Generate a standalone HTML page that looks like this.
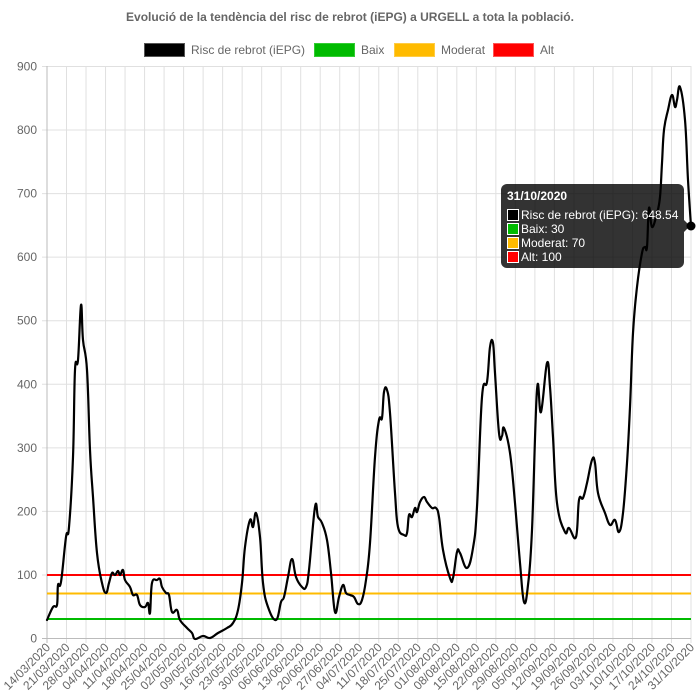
<!DOCTYPE html>
<html><head><meta charset="utf-8"><style>
body{margin:0;background:#fff;}
svg{display:block;font-family:"Liberation Sans",Arial,sans-serif;}
</style></head><body>
<svg width="700" height="700" viewBox="0 0 700 700" xmlns="http://www.w3.org/2000/svg">
<text x="350" y="21" text-anchor="middle" font-size="12" font-weight="bold" fill="#666">Evolució de la tendència del risc de rebrot (iEPG) a URGELL a tota la població.</text>
<g font-size="12" fill="#666">
<rect x="144.5" y="43.5" width="40" height="13" fill="#000" stroke="#555"/>
<text x="191" y="54">Risc de rebrot (iEPG)</text>
<rect x="314.5" y="43.5" width="40" height="13" fill="#00bb00" stroke="#33cc33"/>
<text x="361" y="54">Baix</text>
<rect x="394.5" y="43.5" width="40" height="13" fill="#ffbb00" stroke="#ffcc44"/>
<text x="441" y="54">Moderat</text>
<rect x="493.5" y="43.5" width="40" height="13" fill="#ff0000" stroke="#ff5555"/>
<text x="540" y="54">Alt</text>
</g>
<g id="grid" stroke="#e0e0e0" stroke-width="1"></g>
<g id="ylab" font-size="12" fill="#666" text-anchor="end"></g>
<g id="xlab" font-size="12" fill="#666" text-anchor="end"></g>
<line x1="47" y1="66" x2="47" y2="643" stroke="#bbb"/>
<line x1="42" y1="638.5" x2="691" y2="638.5" stroke="#bbb"/>
<line x1="47" y1="619" x2="691" y2="619" stroke="#00bb00" stroke-width="2"/>
<line x1="47" y1="593.5" x2="691" y2="593.5" stroke="#ffbb00" stroke-width="2"/>
<line x1="47" y1="575" x2="691" y2="575" stroke="#ff0000" stroke-width="2"/>
<path id="curve" fill="none" stroke="#000" stroke-width="2.2" stroke-linejoin="round" stroke-linecap="round" d=""/>
<g>
<rect x="501" y="184" width="183" height="84" rx="6" fill="rgba(0,0,0,0.8)"/>
<polygon points="684,220 690,226 684,232" fill="rgba(0,0,0,0.8)"/>
<text x="507" y="200" font-size="12" font-weight="bold" fill="#fff">31/10/2020</text>
<rect x="507.5" y="209.5" width="11" height="11" fill="#000" stroke="#fff"/>
<text x="521" y="219" font-size="12" fill="#fff">Risc de rebrot (iEPG): 648.54</text>
<rect x="507.5" y="223.5" width="11" height="11" fill="#00bb00" stroke="#fff"/>
<text x="521" y="233" font-size="12" fill="#fff">Baix: 30</text>
<rect x="507.5" y="237.5" width="11" height="11" fill="#ffbb00" stroke="#fff"/>
<text x="521" y="247" font-size="12" fill="#fff">Moderat: 70</text>
<rect x="507.5" y="251.5" width="11" height="11" fill="#ff0000" stroke="#fff"/>
<text x="521" y="261" font-size="12" fill="#fff">Alt: 100</text>
</g>
<circle cx="691" cy="226" r="4.5" fill="#000"/>
</svg>
<script>
(function(){
var ns="http://www.w3.org/2000/svg";
var g=document.getElementById("grid"),yl=document.getElementById("ylab"),xl=document.getElementById("xlab");
for(var k=0;k<=9;k++){var y=638.5-k*63.56;
 var l=document.createElementNS(ns,"line");l.setAttribute("x1",42);l.setAttribute("x2",691);l.setAttribute("y1",y);l.setAttribute("y2",y);g.appendChild(l);
 var t=document.createElementNS(ns,"text");t.setAttribute("x",37);t.setAttribute("y",y+4);t.textContent=k*100;yl.appendChild(t);}
var d=new Date(2020,2,14);
for(var i=0;i<=33;i++){var x=47+i*644/33;
 var l=document.createElementNS(ns,"line");l.setAttribute("x1",x);l.setAttribute("x2",x);l.setAttribute("y1",66);l.setAttribute("y2",643);g.appendChild(l);
 var dd=new Date(d.getTime()+i*7*86400000+3600000*12);
 var s=("0"+dd.getDate()).slice(-2)+"/"+("0"+(dd.getMonth()+1)).slice(-2)+"/2020";
 var t=document.createElementNS(ns,"text");t.setAttribute("transform","translate("+(x+4)+",648) rotate(-45)");t.textContent=s;xl.appendChild(t);}
var pts="47,620 53,607 57,605 58,585 61,582 66,537 69,527 73,457 75,370 78,360 81,305 83,340 87,370 90,450 93,497 97,553 102,583 106,593 109,583 112,573 115,575 118,571 120,575 123,570 125,580 130,587 133,595 137,595 140,605 145,607 148,603 150,613 152,583 157,580 160,579 162,587 166,593 169,595 172,612 177,610 180,620 187,628 192,633 195,639 203,636 210,638 218,633 227,628 233,623 238,610 242,583 245,547 250,520 253,527 256,513 260,537 263,583 268,607 276,620 281,602 284,597 288,577 292,559 296,577 302,587 306,587 309,570 315,507 318,517 322,523 327,540 331,573 335,612 339,597 343,585 346,593 350,595 354,597 358,604 362,600 366,580 370,543 375,457 379,420 382,418 384,392 387,390 390,413 395,493 398,527 404,535 407,533 409,515 412,517 415,508 417,512 420,502 424,497 427,502 432,508 436,508 439,517 443,550 450,578 453,578 457,552 460,553 467,568 473,548 477,507 482,397 487,382 490,347 493,343 495,373 499,433 502,436 504,428 510,453 515,503 520,563 524,602 528,585 532,530 537,390 541,412 547,363 550,387 553,437 557,503 565,532 569,528 576,537 579,500 583,498 587,483 592,460 595,463 598,493 605,513 610,525 615,520 619,532 623,513 627,463 630,407 633,333 637,287 642,253 645,247 647,247 649,208 652,227 657,213 660,197 662,163 664,130 668,110 672,95 675,107 677,100 680,87 685,120 688,180 691,226".split(" ").map(function(p){return p.split(",").map(Number);});
var s="M"+pts[0][0]+","+pts[0][1];
var n=pts.length-1;
for(var j=0;j!==n;j++){
 var p0=pts[j-1]||pts[j],p1=pts[j],p2=pts[j+1],p3=pts[j+2]||p2,f=0.2;
 var c1x=p1[0]+(p2[0]-p0[0])*f,c1y=p1[1]+(p2[1]-p0[1])*f,c2x=p2[0]-(p3[0]-p1[0])*f,c2y=p2[1]-(p3[1]-p1[1])*f;
 s+=" C"+c1x.toFixed(1)+","+c1y.toFixed(1)+" "+c2x.toFixed(1)+","+c2y.toFixed(1)+" "+p2[0]+","+p2[1];}
document.getElementById("curve").setAttribute("d",s);
})();
</script>
</body></html>
